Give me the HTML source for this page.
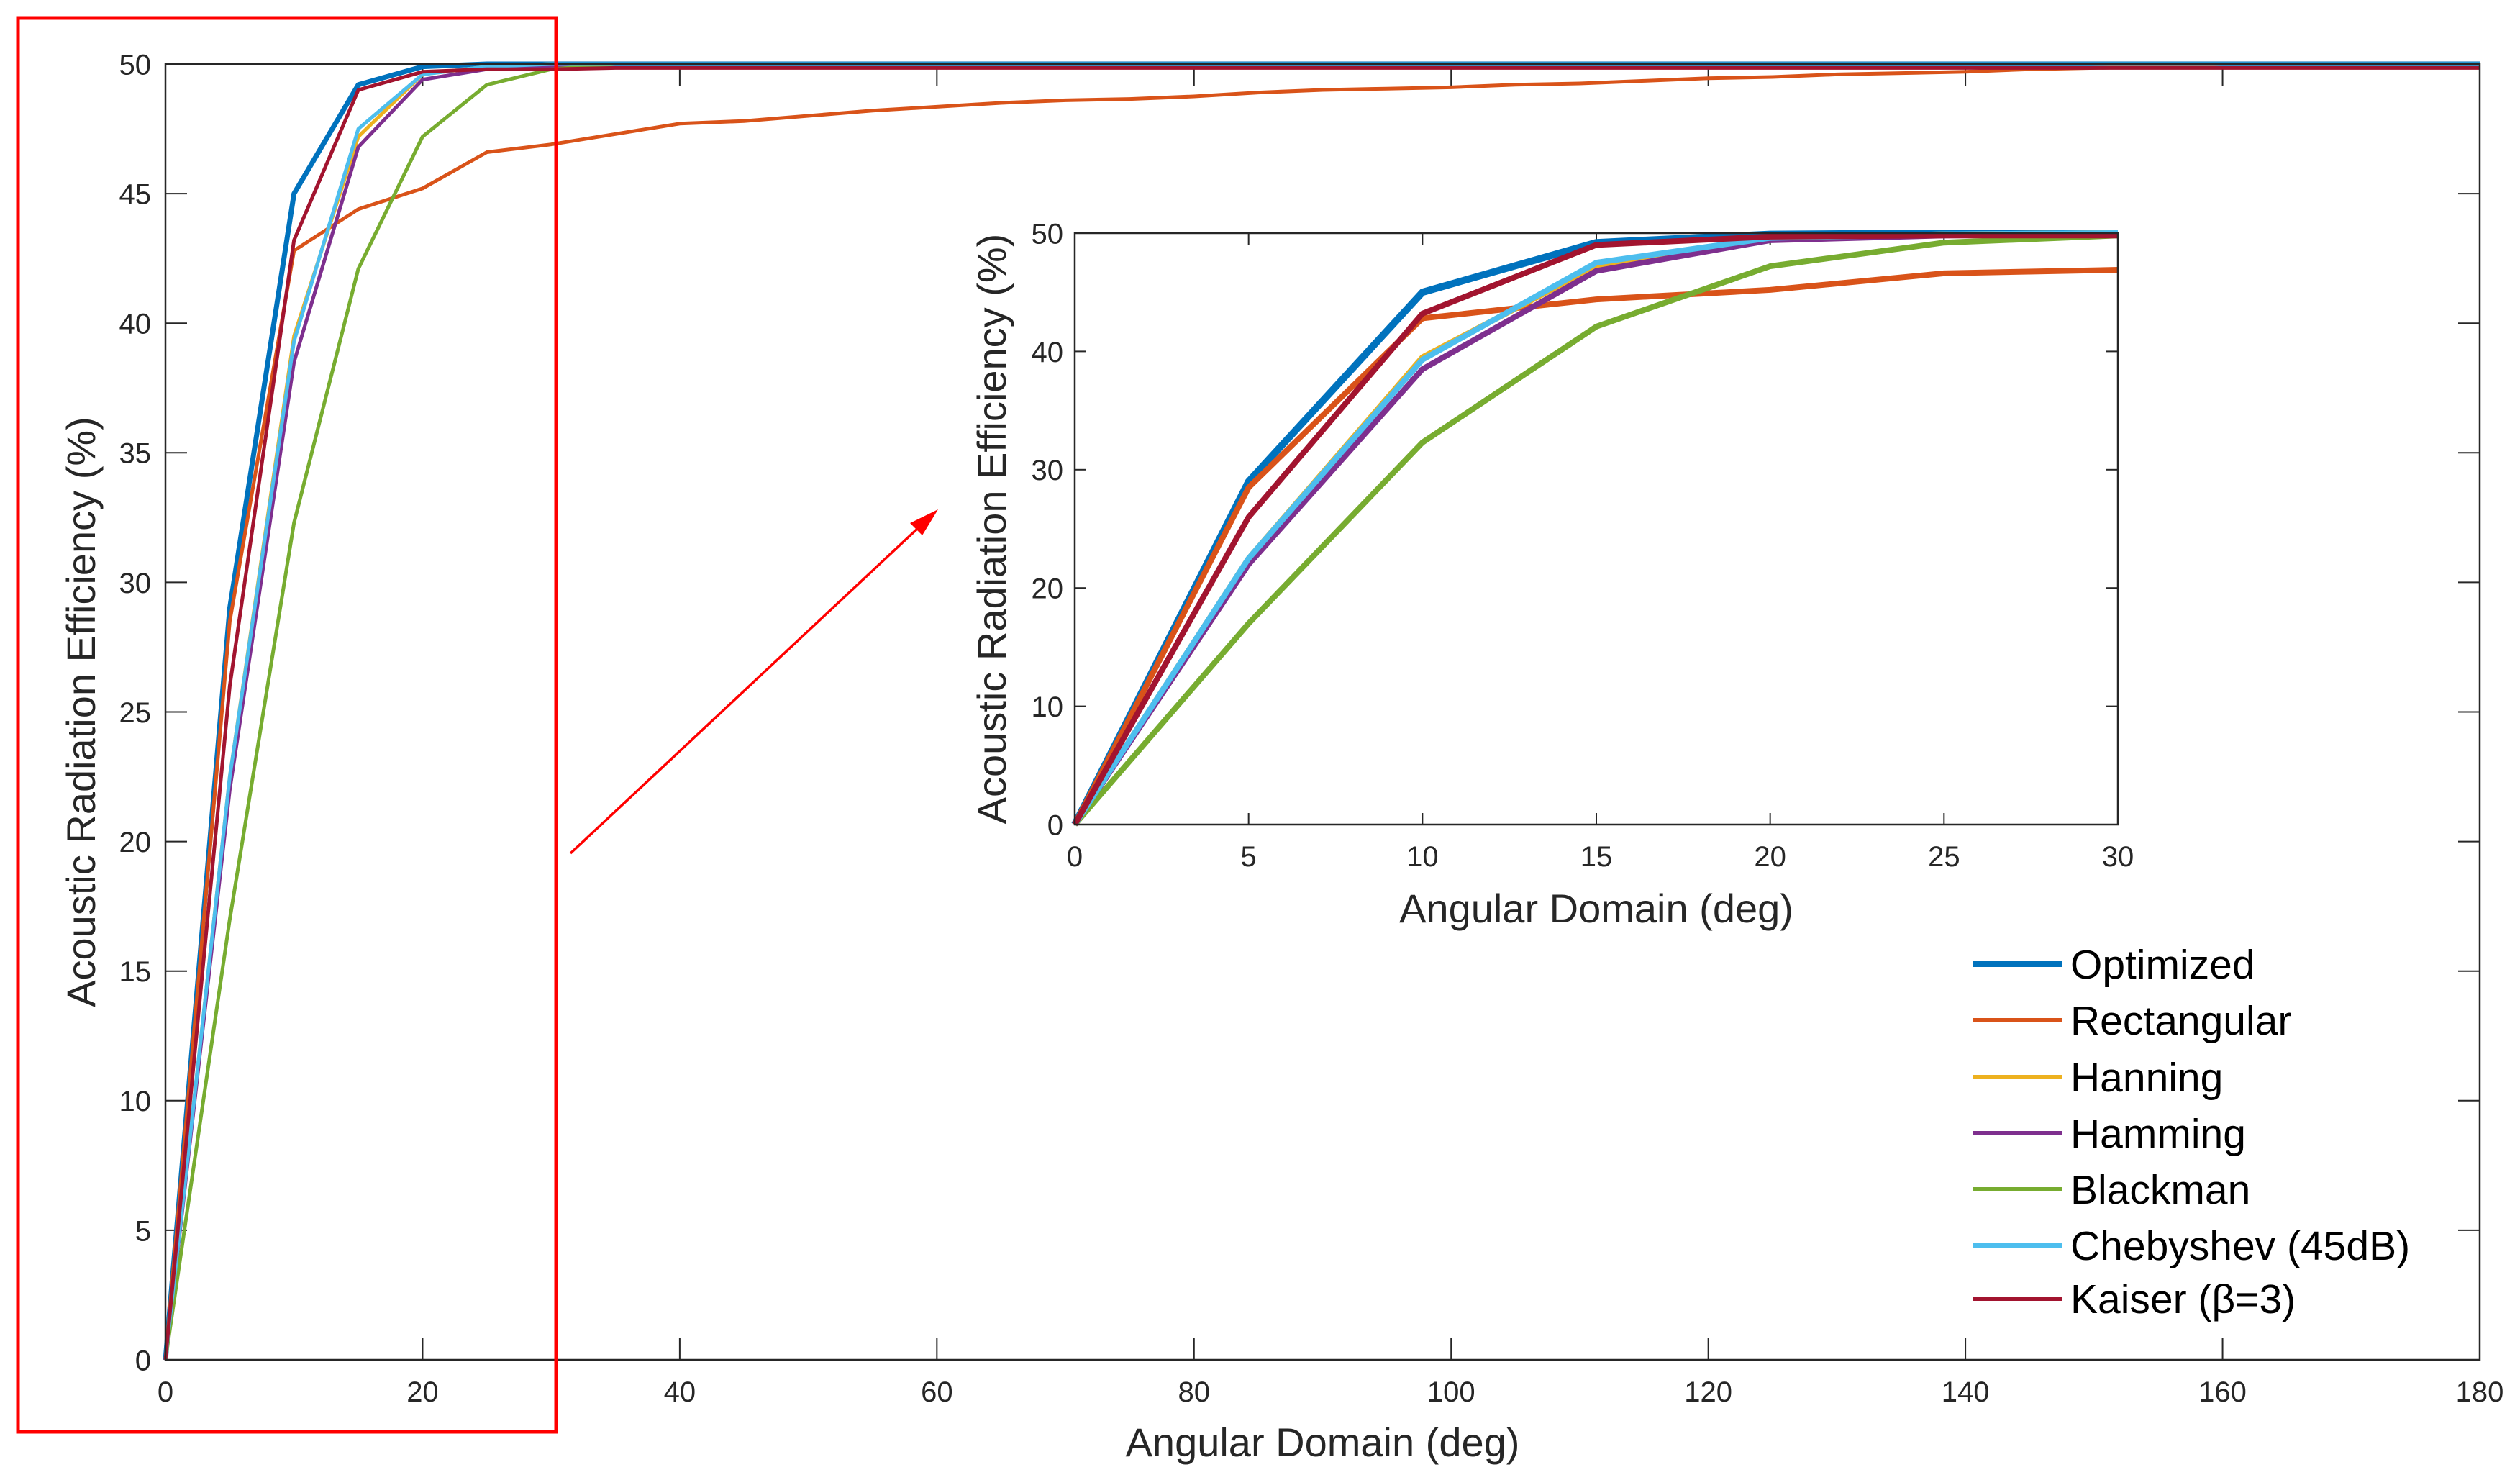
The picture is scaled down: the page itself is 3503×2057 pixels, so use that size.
<!DOCTYPE html>
<html><head><meta charset="utf-8"><style>
html,body{margin:0;padding:0;background:#fff}
svg{display:block;font-family:"Liberation Sans",sans-serif}
</style></head><body>
<svg id="chart" width="3503" height="2057" viewBox="0 0 3503 2057" xmlns="http://www.w3.org/2000/svg">
<rect width="3503" height="2057" fill="#fff"/>
<g id="main"></g>
<g id="inset"></g>
<rect x="25" y="25" width="748" height="1965" fill="none" stroke="#ff0000" stroke-width="5"/>
<line x1="793" y1="1186" x2="1290" y2="721" stroke="#ff0000" stroke-width="3.5"/>
<polygon points="1304,708 1265,727 1282,744" fill="#ff0000"/>
<g id="legend"></g>
</svg>
<script>
const xMain = [0,5,10,15,20,25,30,35,40,45,50,55,60,65,70,75,80,85,90,95,100,105,110,115,120,125,130,135,140,145,150,155,160,165,170,175,180];
const seriesNames = ["Optimized","Rectangular","Hanning","Hamming","Blackman","Chebyshev (45dB)","Kaiser (β=3)"];
const seriesColors = ["#0072BD","#D95319","#EDB120","#7E2F8E","#77AC30","#4DBEEE","#A2142F"];
const fill50 = n => Array(n).fill(50);
const optimized = [0,29,45,49.2,49.9,50,50].concat(fill50(30));
const rectangular = [0,28.5,42.8,44.4,45.2,46.6,46.9,47.3,47.7,47.8,48.0,48.2,48.35,48.5,48.6,48.65,48.75,48.9,49.0,49.05,49.1,49.2,49.25,49.35,49.45,49.5,49.6,49.65,49.7,49.8,49.85,49.9,50,50,50,50,50];
const hanning = [0,22.5,39.5,47.2,49.6,49.9,50].concat(fill50(30));
const hamming = [0,22,38.5,46.8,49.4,49.8,49.9].concat(fill50(30));
const blackman = [0,17,32.3,42.1,47.2,49.2,49.8].concat(fill50(30));
const chebyshev = [0,22.5,39.3,47.5,49.6,49.9,50].concat(fill50(30));
const kaiser = [0,26,43.2,49.0,49.7,49.8,49.8].concat(Array(30).fill(49.85));
const allSeries = [optimized,rectangular,hanning,hamming,blackman,chebyshev,kaiser];
const mainXTicks = [0,20,40,60,80,100,120,140,160,180];
const mainYTicks = [0,5,10,15,20,25,30,35,40,45,50];
const insetXTicks = [0,5,10,15,20,25,30];
const insetYTicks = [0,10,20,30,40,50];

const NS="http://www.w3.org/2000/svg";
function mk(tag,attrs,parent,text){const e=document.createElementNS(NS,tag);for(const k in attrs)e.setAttribute(k,attrs[k]);if(text!==undefined)e.textContent=text;parent.appendChild(e);return e;}

function drawAxes(g,o){
  const sx=v=>o.x0+(v-o.xmin)/(o.xmax-o.xmin)*(o.x1-o.x0);
  const sy=v=>o.y0-(v-o.ymin)/(o.ymax-o.ymin)*(o.y0-o.y1);
  const tl=o.tick;
  o.xticks.forEach(t=>{
    const x=sx(t);
    const a=mk('line',{x1:x,x2:x,y1:o.y0,y2:o.y0-tl,stroke:'#262626','stroke-width':2},g);
    
    const b=mk('line',{x1:x,x2:x,y1:o.y1,y2:o.y1+tl,stroke:'#262626','stroke-width':2},g);
    
    const l=mk('text',{x:x,y:o.y0+o.xlOff,'text-anchor':'middle','font-size':o.fs,fill:'#262626'},g,String(t));
    
  });
  o.yticks.forEach(t=>{
    const y=sy(t);
    const a=mk('line',{x1:o.x0,x2:o.x0+tl,y1:y,y2:y,stroke:'#262626','stroke-width':2},g);
    
    const b=mk('line',{x1:o.x1,x2:o.x1-tl,y1:y,y2:y,stroke:'#262626','stroke-width':2},g);
    
    const l=mk('text',{x:o.x0-o.ylOff,y:y+o.fs*0.36,'text-anchor':'end','font-size':o.fs,fill:'#262626'},g,String(t));
    
  });
  for(let i=0;i<allSeries.length;i++){
    const d=allSeries[i];let pts=[];
    for(let j=0;j<xMain.length;j++){if(xMain[j]<=o.xmax)pts.push(sx(xMain[j]).toFixed(1)+','+sy(d[j]).toFixed(1));}
    const p=mk('polyline',{points:pts.join(' '),fill:'none',stroke:seriesColors[i],'stroke-width':i===0?o.lw+2:o.lw,'stroke-linejoin':'round'},g);
    
    
  }
  const box=mk('rect',{x:o.x0,y:o.y1,width:o.x1-o.x0,height:o.y0-o.y1,fill:'none',stroke:'#262626','stroke-width':2.5},g);
  
  const xt=mk('text',{x:(o.x0+o.x1)/2,y:o.xtY,'text-anchor':'middle','font-size':o.tfs,fill:'#262626'},g,'Angular Domain (deg)');
  
  const yt=mk('text',{x:0,y:0,'text-anchor':'middle','font-size':o.tfs,fill:'#262626',transform:`translate(${o.ytX},${(o.y0+o.y1)/2}) rotate(-90)`},g,'Acoustic Radiation Efficiency (%)');
  
}
const mainG=document.getElementById('main');
drawAxes(mainG,{x0:230,x1:3447,y0:1890,y1:89,xmin:0,xmax:180,ymin:0,ymax:50,xticks:mainXTicks,yticks:mainYTicks,tick:30,fs:40,tfs:56,lw:5,xlOff:58,ylOff:20,xtY:2024,ytX:132});
const insG=document.getElementById('inset');
mk('rect',{x:1340,y:260,width:1640,height:1040,fill:'#fff'},insG);
drawAxes(insG,{x0:1494,x1:2944,y0:1146,y1:324,xmin:0,xmax:30,ymin:0,ymax:50,xticks:insetXTicks,yticks:insetYTicks,tick:16,fs:40,tfs:56,lw:8,xlOff:58,ylOff:16,xtY:1282,ytX:1398});
const lg=document.getElementById('legend');
const legY=[1340,1418,1497,1575,1653,1731,1805];
for(let i=0;i<seriesNames.length;i++){
  const l=mk('line',{x1:2743,x2:2866,y1:legY[i],y2:legY[i],stroke:seriesColors[i],'stroke-width':i===0?8:6},lg);
  
  const t=mk('text',{x:2878,y:legY[i]+20,'font-size':57,fill:'#000'},lg,seriesNames[i]);
  
}
</script>
</body></html>
